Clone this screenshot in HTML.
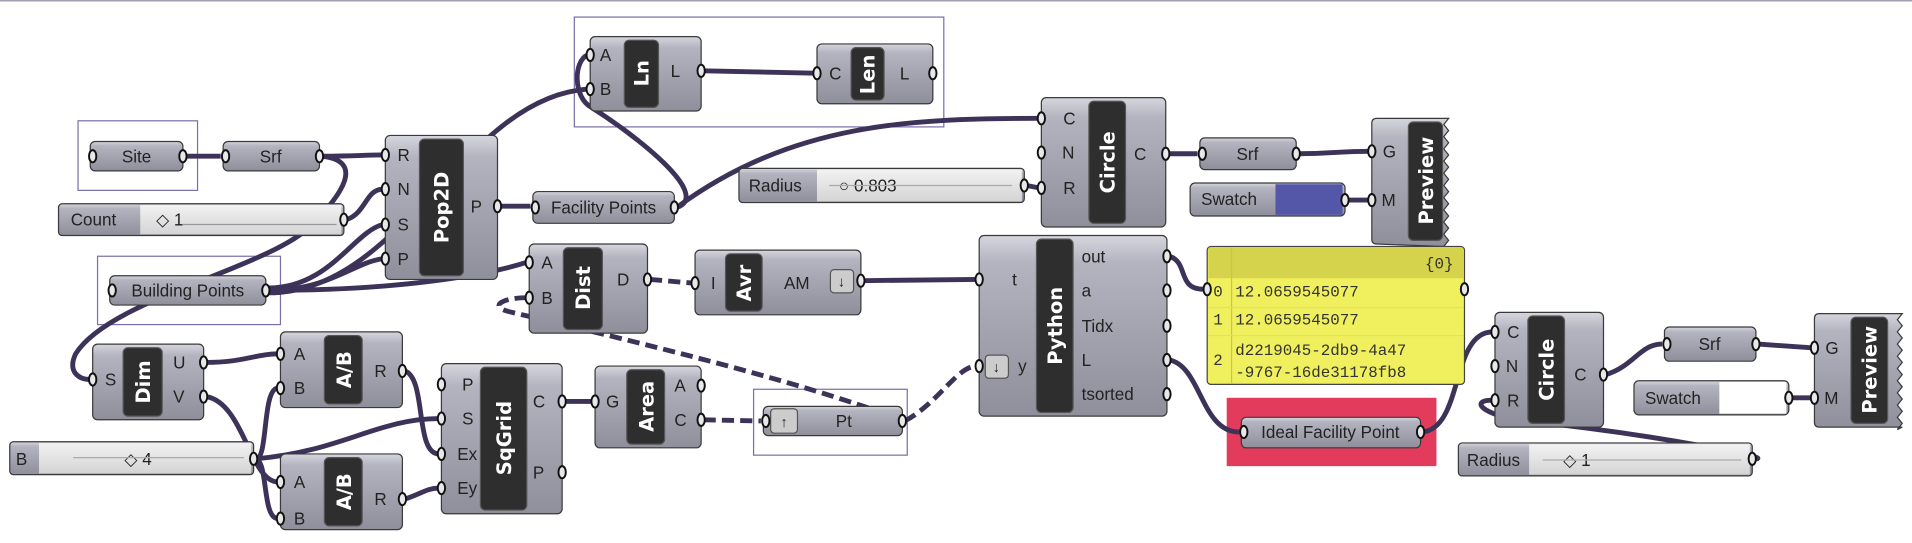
<!DOCTYPE html>
<html><head><meta charset="utf-8"><style>
html,body{margin:0;padding:0;background:#fff;width:1912px;height:543px;overflow:hidden}
svg{display:block}
text{font-family:"Liberation Sans",sans-serif}
.l{font-size:14px;fill:#222}
.b{font-family:"DejaVu Sans",sans-serif;font-weight:bold;font-size:16px;fill:#fff}
.n{fill:url(#g);stroke:#3a3a3a;stroke-width:1}
.bar{fill:#2e2e2e;stroke:#555;stroke-width:1}
.w{fill:none;stroke:#3d3359;stroke-width:4}
.wd{fill:none;stroke:#3d3359;stroke-width:4;stroke-dasharray:10 5}
.p{fill:#e8e8e8;stroke:#111;stroke-width:1.6}
.gb{fill:none;stroke:#7a6fa8;stroke-width:1}
.m{font-family:"Liberation Mono",monospace;font-size:13px;fill:#333}
</style></head><body>
<svg width="1912" height="543" viewBox="0 0 1568 445" preserveAspectRatio="none" xmlns="http://www.w3.org/2000/svg">
<defs>
<linearGradient id="g" x1="0" y1="0" x2="0" y2="1">
<stop offset="0" stop-color="#d6d6de"/><stop offset="0.15" stop-color="#b4b4c0"/><stop offset="1" stop-color="#8f8f9c"/></linearGradient>
<linearGradient id="s" x1="0" y1="0" x2="0" y2="1">
<stop offset="0" stop-color="#f2f2f2"/><stop offset="1" stop-color="#d4d4d4"/></linearGradient>
</defs>
<line x1="0" y1="0.5" x2="1568" y2="0.5" stroke="#a0a0b0" stroke-width="1.5"/>

<rect class="gb" x="64" y="99" width="98" height="57"/>
<rect class="gb" x="80" y="210" width="150" height="56"/>
<rect class="gb" x="471" y="14" width="303" height="90"/>
<rect class="gb" x="618" y="319" width="126" height="54"/>
<rect x="1006" y="326" width="172" height="56" fill="#e23b5c"/>

<path class="w" d="M152,128 L181,128"/>
<path class="w" d="M264,128 C290,128 300,127 314,127"/>
<path class="w" d="M264,128 C300,132 280,160 255,185 C220,220 90,245 62,290 C55,305 65,311 74,311"/>
<path class="w" d="M284,180 C300,175 300,155 314,155"/>
<path class="w" d="M220,236 C270,236 290,190 314,184"/>
<path class="w" d="M220,238 C270,238 290,215 314,212"/>
<path class="w" d="M220,240 C330,240 380,80 482,73"/>
<path class="w" d="M220,238 C330,238 400,225 432,215"/>
<path class="w" d="M410,169 L435,169"/>
<path class="w" d="M555,170 C585,160 520,110 485,88 C470,80 470,50 482,45"/>
<path class="w" d="M555,170 C650,100 750,97 852,97"/>
<path class="w" d="M577,58 L668,60"/>
<path class="w" d="M842,152 L852,154"/>
<path class="w" d="M958,126 L982,126"/>
<path class="w" d="M1065,126 C1090,126 1100,124 1123,124"/>
<path class="w" d="M1105,164 L1123,164"/>
<path class="wd" d="M533,229 L568,232"/>
<path class="w" d="M708,230 L801,229"/>
<path class="wd" d="M432,244 C410,244 400,252 420,256 C500,275 650,310 742,345"/>
<path class="wd" d="M577,344 L624,345"/>
<path class="wd" d="M742,345 C770,330 785,300 801,300"/>
<path class="w" d="M463,329 L486,329"/>
<path class="w" d="M169,297 C200,297 210,290 228,290"/>
<path class="w" d="M169,325 C200,330 205,395 228,395"/>
<path class="w" d="M210,376 C220,376 215,318 228,318"/>
<path class="w" d="M210,376 C220,380 215,425 228,425"/>
<path class="w" d="M210,376 C280,370 310,343 360,343"/>
<path class="w" d="M332,304 C350,310 340,372 360,372"/>
<path class="w" d="M332,409 C345,405 350,400 360,400"/>
<path class="w" d="M959,210 C975,215 965,237 987,237"/>
<path class="w" d="M959,295 C985,300 985,354 1016,354"/>
<path class="w" d="M1167,354 C1200,350 1190,272 1224,272"/>
<path class="w" d="M1439,376 C1460,376 1350,355 1250,345 C1215,340 1205,328 1224,328"/>
<path class="w" d="M1317,307 C1340,300 1345,282 1363,282"/>
<path class="w" d="M1442,282 L1486,285"/>
<path class="w" d="M1469,326 L1486,326"/>

<rect class="n" x="74" y="116" width="76" height="24" rx="4"/><text class="l" x="112" y="133" text-anchor="middle">Site</text>
<ellipse class="p" cx="76" cy="128" rx="3" ry="5"/><ellipse class="p" cx="150" cy="128" rx="3" ry="5"/>
<rect class="n" x="183" y="116" width="79" height="24" rx="4"/><text class="l" x="222" y="133" text-anchor="middle">Srf</text>
<ellipse class="p" cx="185" cy="128" rx="3" ry="5"/><ellipse class="p" cx="262" cy="128" rx="3" ry="5"/>
<rect class="n" x="48" y="167" width="234" height="26" rx="3"/><rect x="115" y="168" width="165" height="24" fill="url(#s)"/>
<text class="l" x="58" y="185">Count</text><text class="l" x="128" y="185">◇ 1</text>
<line x1="150" y1="184" x2="276" y2="184" stroke="#999"/>
<ellipse class="p" cx="282" cy="180" rx="3" ry="5"/>
<rect class="n" x="90" y="226" width="128" height="24" rx="4"/><text class="l" x="154" y="243" text-anchor="middle">Building Points</text>
<ellipse class="p" cx="92" cy="238" rx="3" ry="5"/><ellipse class="p" cx="218" cy="238" rx="3" ry="5"/>
<rect class="n" x="316" y="111" width="92" height="118" rx="4"/><rect class="bar" x="344" y="114" width="36" height="112" rx="4"/>
<text class="b" transform="translate(368,170) rotate(-90)" text-anchor="middle">Pop2D</text>
<text class="l" x="326" y="132">R</text><text class="l" x="326" y="160">N</text><text class="l" x="326" y="189">S</text><text class="l" x="326" y="217">P</text><text class="l" x="386" y="174">P</text>
<ellipse class="p" cx="316" cy="127" rx="3" ry="5"/><ellipse class="p" cx="316" cy="155" rx="3" ry="5"/><ellipse class="p" cx="316" cy="184" rx="3" ry="5"/><ellipse class="p" cx="316" cy="212" rx="3" ry="5"/><ellipse class="p" cx="408" cy="169" rx="3" ry="5"/>
<rect class="n" x="484" y="30" width="91" height="61" rx="4"/><rect class="bar" x="512" y="33" width="28" height="55" rx="4"/>
<text class="b" transform="translate(532,60) rotate(-90)" text-anchor="middle">Ln</text>
<text class="l" x="492" y="50">A</text><text class="l" x="492" y="78">B</text><text class="l" x="550" y="63">L</text>
<ellipse class="p" cx="484" cy="45" rx="3" ry="5"/><ellipse class="p" cx="484" cy="73" rx="3" ry="5"/><ellipse class="p" cx="575" cy="58" rx="3" ry="5"/>
<rect class="n" x="670" y="36" width="95" height="49" rx="4"/><rect class="bar" x="698" y="39" width="27" height="43" rx="4"/>
<text class="b" transform="translate(717,61) rotate(-90)" text-anchor="middle">Len</text>
<text class="l" x="680" y="65">C</text><text class="l" x="738" y="65">L</text>
<ellipse class="p" cx="670" cy="60" rx="3" ry="5"/><ellipse class="p" cx="765" cy="60" rx="3" ry="5"/>
<rect class="n" x="437" y="157" width="116" height="26" rx="4"/><text class="l" x="495" y="175" text-anchor="middle">Facility Points</text>
<ellipse class="p" cx="439" cy="170" rx="3" ry="5"/><ellipse class="p" cx="553" cy="170" rx="3" ry="5"/>
<rect class="n" x="606" y="138" width="234" height="28" rx="3"/><rect x="670" y="139" width="168" height="26" fill="url(#s)"/>
<text class="l" x="614" y="157">Radius</text><text class="l" x="688" y="157">○ 0.803</text>
<line x1="680" y1="152" x2="830" y2="152" stroke="#aaa"/>
<ellipse class="p" cx="840" cy="152" rx="3" ry="5"/>
<rect class="n" x="854" y="80" width="102" height="106" rx="4"/><rect class="bar" x="893" y="83" width="30" height="100" rx="4"/>
<text class="b" transform="translate(914,133) rotate(-90)" text-anchor="middle">Circle</text>
<text class="l" x="872" y="102">C</text><text class="l" x="871" y="130">N</text><text class="l" x="872" y="159">R</text><text class="l" x="930" y="131">C</text>
<ellipse class="p" cx="854" cy="97" rx="3" ry="5"/><ellipse class="p" cx="854" cy="125" rx="3" ry="5"/><ellipse class="p" cx="854" cy="154" rx="3" ry="5"/><ellipse class="p" cx="956" cy="126" rx="3" ry="5"/>
<rect class="n" x="984" y="113" width="79" height="26" rx="4"/><text class="l" x="1023" y="131" text-anchor="middle">Srf</text>
<ellipse class="p" cx="986" cy="126" rx="3" ry="5"/><ellipse class="p" cx="1063" cy="126" rx="3" ry="5"/>
<rect class="n" x="976" y="150" width="127" height="27" rx="4"/><rect x="1046" y="151" width="55" height="25" fill="#5457a8"/>
<text class="l" x="985" y="168">Swatch</text><ellipse class="p" cx="1103" cy="164" rx="3" ry="5"/>
<path class="n" d="M1129,97 L1188,97 l-4,5 l4,5 l-4,5 l4,5 l-4,5 l4,5 l-4,5 l4,5 l-4,5 l4,5 l-4,5 l4,5 l-4,5 l4,5 l-4,5 l4,5 l-4,5 l4,5 l-4,5 l4,5 l-4,5 L1129,200 Q1125,200 1125,196 L1125,101 Q1125,97 1129,97Z"/>
<rect class="bar" x="1155" y="100" width="28" height="97" rx="4"/>
<text class="b" transform="translate(1175,148) rotate(-90)" text-anchor="middle">Preview</text>
<text class="l" x="1134" y="129">G</text><text class="l" x="1133" y="169">M</text>
<ellipse class="p" cx="1125" cy="124" rx="3" ry="5"/><ellipse class="p" cx="1125" cy="164" rx="3" ry="5"/>
<rect class="n" x="434" y="200" width="97" height="73" rx="4"/><rect class="bar" x="462" y="203" width="32" height="67" rx="4"/>
<text class="b" transform="translate(484,236) rotate(-90)" text-anchor="middle">Dist</text>
<text class="l" x="444" y="220">A</text><text class="l" x="444" y="249">B</text><text class="l" x="506" y="234">D</text>
<ellipse class="p" cx="434" cy="215" rx="3" ry="5"/><ellipse class="p" cx="434" cy="244" rx="3" ry="5"/><ellipse class="p" cx="531" cy="229" rx="3" ry="5"/>
<rect class="n" x="570" y="205" width="136" height="53" rx="4"/><rect class="bar" x="595" y="208" width="30" height="47" rx="4"/>
<text class="b" transform="translate(616,232) rotate(-90)" text-anchor="middle">Avr</text>
<text class="l" x="583" y="237">I</text><text class="l" x="643" y="237">AM</text>
<rect x="681" y="221" width="19" height="19" rx="3" fill="#ccc" stroke="#555"/><text class="l" x="690" y="235" text-anchor="middle" style="font-size:12px">↓</text>
<ellipse class="p" cx="570" cy="232" rx="3" ry="5"/><ellipse class="p" cx="706" cy="230" rx="3" ry="5"/>
<rect class="n" x="803" y="193" width="154" height="148" rx="4"/><rect class="bar" x="850" y="196" width="30" height="142" rx="4"/>
<text class="b" transform="translate(871,267) rotate(-90)" text-anchor="middle">Python</text>
<text class="l" x="830" y="234">t</text><text class="l" x="835" y="305">y</text>
<rect x="808" y="291" width="19" height="19" rx="3" fill="#ccc" stroke="#555"/><text class="l" x="817" y="305" text-anchor="middle" style="font-size:12px">↓</text>
<text class="l" x="887" y="215">out</text><text class="l" x="887" y="243">a</text><text class="l" x="887" y="272">Tidx</text><text class="l" x="887" y="300">L</text><text class="l" x="887" y="328">tsorted</text>
<ellipse class="p" cx="803" cy="229" rx="3" ry="5"/><ellipse class="p" cx="803" cy="300" rx="3" ry="5"/>
<ellipse class="p" cx="957" cy="210" rx="3" ry="5"/><ellipse class="p" cx="957" cy="238" rx="3" ry="5"/><ellipse class="p" cx="957" cy="267" rx="3" ry="5"/><ellipse class="p" cx="957" cy="295" rx="3" ry="5"/><ellipse class="p" cx="957" cy="323" rx="3" ry="5"/>
<rect x="990" y="202" width="211" height="113" rx="3" fill="#f0ef5e" stroke="#444" stroke-width="1"/>
<rect x="991" y="203" width="209" height="25" fill="#d5d34c"/>
<line x1="1010" y1="203" x2="1010" y2="314" stroke="#c9c747"/>
<line x1="991" y1="252" x2="1200" y2="252" stroke="#e4e256"/><line x1="991" y1="275" x2="1200" y2="275" stroke="#e4e256"/>
<text class="m" x="1192" y="220" text-anchor="end">{0}</text>
<text class="m" x="995" y="243">0</text><text class="m" x="1013" y="243">12.0659545077</text>
<text class="m" x="995" y="266">1</text><text class="m" x="1013" y="266">12.0659545077</text>
<text class="m" x="995" y="299">2</text><text class="m" x="1013" y="291">d2219045-2db9-4a47</text><text class="m" x="1013" y="309">-9767-16de31178fb8</text>
<ellipse class="p" cx="990" cy="237" rx="3" ry="5"/><ellipse class="p" cx="1201" cy="237" rx="3" ry="5"/>
<rect class="n" x="1018" y="342" width="147" height="25" rx="4"/><text class="l" x="1091" y="359" text-anchor="middle">Ideal Facility Point</text>
<ellipse class="p" cx="1020" cy="354" rx="3" ry="5"/><ellipse class="p" cx="1165" cy="354" rx="3" ry="5"/>
<rect class="n" x="1226" y="256" width="89" height="94" rx="4"/><rect class="bar" x="1253" y="259" width="30" height="88" rx="4"/>
<text class="b" transform="translate(1274,303) rotate(-90)" text-anchor="middle">Circle</text>
<text class="l" x="1236" y="277">C</text><text class="l" x="1235" y="305">N</text><text class="l" x="1236" y="333">R</text><text class="l" x="1291" y="312">C</text>
<ellipse class="p" cx="1226" cy="272" rx="3" ry="5"/><ellipse class="p" cx="1226" cy="300" rx="3" ry="5"/><ellipse class="p" cx="1226" cy="328" rx="3" ry="5"/><ellipse class="p" cx="1315" cy="307" rx="3" ry="5"/>
<rect class="n" x="1365" y="268" width="75" height="28" rx="4"/><text class="l" x="1402" y="287" text-anchor="middle">Srf</text>
<ellipse class="p" cx="1367" cy="282" rx="3" ry="5"/><ellipse class="p" cx="1440" cy="282" rx="3" ry="5"/>
<rect class="n" x="1340" y="312" width="127" height="28" rx="4"/><rect x="1410" y="313" width="55" height="26" fill="#fff"/>
<text class="l" x="1349" y="331">Swatch</text><ellipse class="p" cx="1467" cy="326" rx="3" ry="5"/>
<path class="n" d="M1492,257 L1560,257 l-4,5 l4,5 l-4,5 l4,5 l-4,5 l4,5 l-4,5 l4,5 l-4,5 l4,5 l-4,5 l4,5 l-4,5 l4,5 l-4,5 l4,5 l-4,5 l4,5 l-4,5 L1560,350 L1492,350 Q1488,350 1488,346 L1488,261 Q1488,257 1492,257Z"/>
<rect class="bar" x="1518" y="260" width="30" height="87" rx="4"/>
<text class="b" transform="translate(1539,303) rotate(-90)" text-anchor="middle">Preview</text>
<text class="l" x="1497" y="290">G</text><text class="l" x="1496" y="331">M</text>
<ellipse class="p" cx="1488" cy="285" rx="3" ry="5"/><ellipse class="p" cx="1488" cy="326" rx="3" ry="5"/>
<rect class="n" x="1196" y="363" width="241" height="27" rx="3"/><rect x="1254" y="364" width="181" height="25" fill="url(#s)"/>
<text class="l" x="1203" y="382">Radius</text><text class="l" x="1282" y="382">◇ 1</text>
<line x1="1265" y1="377" x2="1428" y2="377" stroke="#aaa"/>
<ellipse class="p" cx="1437" cy="376" rx="3" ry="5"/>
<rect class="n" x="76" y="282" width="91" height="62" rx="4"/><rect class="bar" x="101" y="285" width="32" height="56" rx="4"/>
<text class="b" transform="translate(123,313) rotate(-90)" text-anchor="middle">Dim</text>
<text class="l" x="86" y="316">S</text><text class="l" x="142" y="302">U</text><text class="l" x="142" y="330">V</text>
<ellipse class="p" cx="76" cy="311" rx="3" ry="5"/><ellipse class="p" cx="167" cy="297" rx="3" ry="5"/><ellipse class="p" cx="167" cy="325" rx="3" ry="5"/>
<rect class="n" x="8" y="362" width="200" height="27" rx="3"/><rect x="32" y="363" width="174" height="25" fill="url(#s)"/>
<text class="l" x="13" y="381">B</text><text class="l" x="102" y="381">◇ 4</text>
<line x1="60" y1="375" x2="200" y2="375" stroke="#aaa"/>
<ellipse class="p" cx="208" cy="376" rx="3" ry="5"/>
<rect class="n" x="230" y="272" width="100" height="62" rx="4"/><rect class="bar" x="266" y="275" width="31" height="56" rx="4"/>
<text class="b" transform="translate(288,303) rotate(-90)" text-anchor="middle">A/B</text>
<text class="l" x="241" y="295">A</text><text class="l" x="241" y="323">B</text><text class="l" x="307" y="309">R</text>
<ellipse class="p" cx="230" cy="290" rx="3" ry="5"/><ellipse class="p" cx="230" cy="318" rx="3" ry="5"/><ellipse class="p" cx="330" cy="304" rx="3" ry="5"/>
<rect class="n" x="230" y="372" width="100" height="62" rx="4"/><rect class="bar" x="266" y="375" width="31" height="56" rx="4"/>
<text class="b" transform="translate(288,403) rotate(-90)" text-anchor="middle">A/B</text>
<text class="l" x="241" y="400">A</text><text class="l" x="241" y="430">B</text><text class="l" x="307" y="414">R</text>
<ellipse class="p" cx="230" cy="395" rx="3" ry="5"/><ellipse class="p" cx="230" cy="425" rx="3" ry="5"/><ellipse class="p" cx="330" cy="409" rx="3" ry="5"/>
<rect class="n" x="362" y="298" width="99" height="123" rx="4"/><rect class="bar" x="394" y="301" width="38" height="117" rx="4"/>
<text class="b" transform="translate(419,359) rotate(-90)" text-anchor="middle">SqGrid</text>
<text class="l" x="379" y="320">P</text><text class="l" x="379" y="348">S</text><text class="l" x="375" y="377">Ex</text><text class="l" x="375" y="405">Ey</text>
<text class="l" x="437" y="334">C</text><text class="l" x="437" y="392">P</text>
<ellipse class="p" cx="362" cy="315" rx="3" ry="5"/><ellipse class="p" cx="362" cy="343" rx="3" ry="5"/><ellipse class="p" cx="362" cy="372" rx="3" ry="5"/><ellipse class="p" cx="362" cy="400" rx="3" ry="5"/>
<ellipse class="p" cx="461" cy="329" rx="3" ry="5"/><ellipse class="p" cx="461" cy="387" rx="3" ry="5"/>
<rect class="n" x="488" y="300" width="87" height="67" rx="4"/><rect class="bar" x="514" y="303" width="31" height="61" rx="4"/>
<text class="b" transform="translate(536,333) rotate(-90)" text-anchor="middle">Area</text>
<text class="l" x="497" y="334">G</text><text class="l" x="553" y="321">A</text><text class="l" x="553" y="349">C</text>
<ellipse class="p" cx="488" cy="329" rx="3" ry="5"/><ellipse class="p" cx="575" cy="316" rx="3" ry="5"/><ellipse class="p" cx="575" cy="344" rx="3" ry="5"/>
<rect class="n" x="626" y="333" width="114" height="24" rx="4"/>
<rect x="632" y="335" width="22" height="20" rx="3" fill="#ccc" stroke="#555"/><text class="l" x="643" y="350" text-anchor="middle" style="font-size:12px">↑</text>
<text class="l" x="692" y="350" text-anchor="middle">Pt</text>
<ellipse class="p" cx="628" cy="345" rx="3" ry="5"/><ellipse class="p" cx="740" cy="345" rx="3" ry="5"/>
</svg>
</body></html>
